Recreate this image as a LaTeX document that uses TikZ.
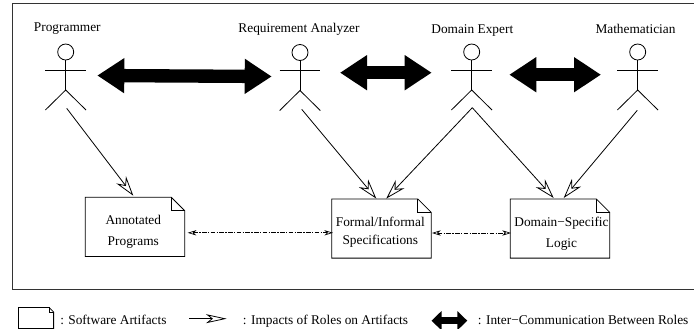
\documentclass[tikz,border=0pt]{standalone}
\usepackage{fontspec}
\setmainfont{Liberation Serif}
\usetikzlibrary{arrows.meta}
\tikzset{
  lbl/.style={inner sep=0pt,font=\fontsize{10}{12}\selectfont},
  frameline/.style={line width=0.85pt,draw=black!80},
  thin line/.style={line width=0.6pt},
  head/.style={circle,draw,line width=0.6pt,minimum size=12pt,inner sep=0pt},
  docbox/.style={rectangle,inner sep=0pt,minimum width=74.25pt,minimum height=44pt},
  doctext/.style={inner sep=0pt,align=center},
  impact/.style={line width=0.6pt,-{Stealth[open,length=15pt,width=9pt,inset=5pt,line width=0.6pt]}},
  link/.style={line width=0.5pt,dash pattern=on 3.5pt off 1pt on 1pt off 1pt,
     {Stealth[open,length=6.5pt,width=4pt,inset=2pt,line width=0.5pt]}-{Stealth[open,length=6.5pt,width=4pt,inset=2pt,line width=0.5pt]}},
  comm/.style={line width=10pt,{Triangle[length=20.25pt,width=25pt]}-{Triangle[length=20.25pt,width=25pt]}},
  commsmall/.style={line width=5pt,{Triangle[length=7.5pt,width=14pt]}-{Triangle[length=7.5pt,width=14pt]}},
}
\newcommand{\stickman}[3]{% name, x, y of head centre
  \node[head] (#1) at (#2,#3) {};
  \coordinate (#1hip) at (#2,#3+38);
  \draw[thin line] (#1.south) -- (#1hip);
  \draw[thin line] (#2-20.3,#3+18) -- (#2+20.3,#3+18);
  \draw[thin line] (#2-20.3,#3+58) -- (#1hip) -- (#2+20.3,#3+58);
}
\newcommand{\docshape}[2]{% name, fold size in px
  \draw[thin line] (#1.south west) -- (#1.north west) -- ([xshift=-#2*0.75pt]#1.north east)
    -- ([yshift=-#2*0.75pt]#1.north east) -- (#1.south east) -- cycle;
  \draw[thin line] ([xshift=-#2*0.75pt]#1.north east) |- ([yshift=-#2*0.75pt]#1.north east);
}
\begin{document}
\begin{tikzpicture}[x=0.75pt,y=-0.75pt]
\useasboundingbox (0,0) rectangle (694,329);
\draw[frameline] (694,3.8) -- (12.6,3.8) -- (12.6,289.4) -- (694,289.4);

\node[lbl] (lprog) at (67.3,28.7) {Programmer};
\node[lbl] (lreq) at (299,29.7) {Requirement Analyzer};
\node[lbl] (ldom) at (472.3,30.3) {Domain Expert};
\node[lbl] (lmath) at (635.5,28.9) {Mathematician};

\stickman{prog}{65.7}{52}
\stickman{req}{300}{52.5}
\stickman{dom}{471.7}{52}
\stickman{math}{637.7}{52}

\node[docbox] (anno) at (135,226.8) {};
\node[docbox] (spec) at (381.5,228.5) {};
\node[docbox] (dsl) at (560,228.5) {};
\docshape{anno}{13.5}
\docshape{spec}{13.5}
\docshape{dsl}{13.5}
\node[doctext,font=\fontsize{10}{15.75}\selectfont] (annot) at (133.3,232.2) {Annotated\\Programs};
\node[doctext,font=\fontsize{10}{13.8}\selectfont] (spect) at (380.3,232.5) {Formal/Informal\\Specifications};
\node[doctext,font=\fontsize{10}{15.75}\selectfont] (dslt) at (561.5,233.8) {Domain−Specific\\Logic};

\coordinate (c1a) at (97.3,75.5);
\coordinate (c1b) at (271.7,76.5);
\coordinate (c2a) at (340,72.7);
\coordinate (c2b) at (431.7,72.7);
\coordinate (c3a) at (509.3,74.7);
\coordinate (c3b) at (601,74.7);
\draw[comm] (c1a) -- (c1b);
\draw[comm] (c2a) -- (c2b);
\draw[comm] (c3a) -- (c3b);

\coordinate (i1a) at (66.7,108.3);
\coordinate (i1b) at (133.3,195.7);
\coordinate (i2a) at (301.7,109.3);
\coordinate (i2b) at (376.3,198.6);
\coordinate (i3a) at (472.3,107.7);
\coordinate (i3b) at (386.3,198.6);
\coordinate (i4b) at (553.7,198);
\coordinate (i5a) at (637.3,110.3);
\coordinate (i5b) at (563.7,198);
\draw[impact] (i1a) -- (i1b);
\draw[impact] (i2a) -- (i2b);
\draw[impact] (i3a) -- (i3b);
\draw[impact] (i3a) -- (i4b);
\draw[impact] (i5a) -- (i5b);

\coordinate (la) at (187.7,232.8);
\coordinate (lb) at (333,232.8);
\coordinate (lc) at (432,233);
\coordinate (ld) at (511,233);
\draw[link] (la) -- (lb);
\draw[link] (lc) -- (ld);

% legend
\node[rectangle,inner sep=0pt,minimum width=26pt,minimum height=15.4pt] (legdoc) at (36,318) {};
\docshape{legdoc}{4.5}
\node[lbl,anchor=base west] (legt1) at (60,324.2) {: Software Artifacts};
\coordinate (l2a) at (189.3,318.7);
\coordinate (l2b) at (226.7,318.7);
\draw[line width=0.6pt,-{Stealth[open,length=15.5pt,width=6.75pt,inset=4.2pt,line width=0.6pt]}] (l2a) -- (l2b);
\node[lbl,anchor=base west] (legt2) at (242.7,324.2) {: Impacts of Roles on Artifacts};
\coordinate (l3a) at (431.5,320.7);
\coordinate (l3b) at (467.3,320.7);
\draw[commsmall] (l3a) -- (l3b);
\node[lbl,anchor=base west] (legt3) at (477.7,324.2) {: Inter−Communication Between Roles};
\end{tikzpicture}
\end{document}
